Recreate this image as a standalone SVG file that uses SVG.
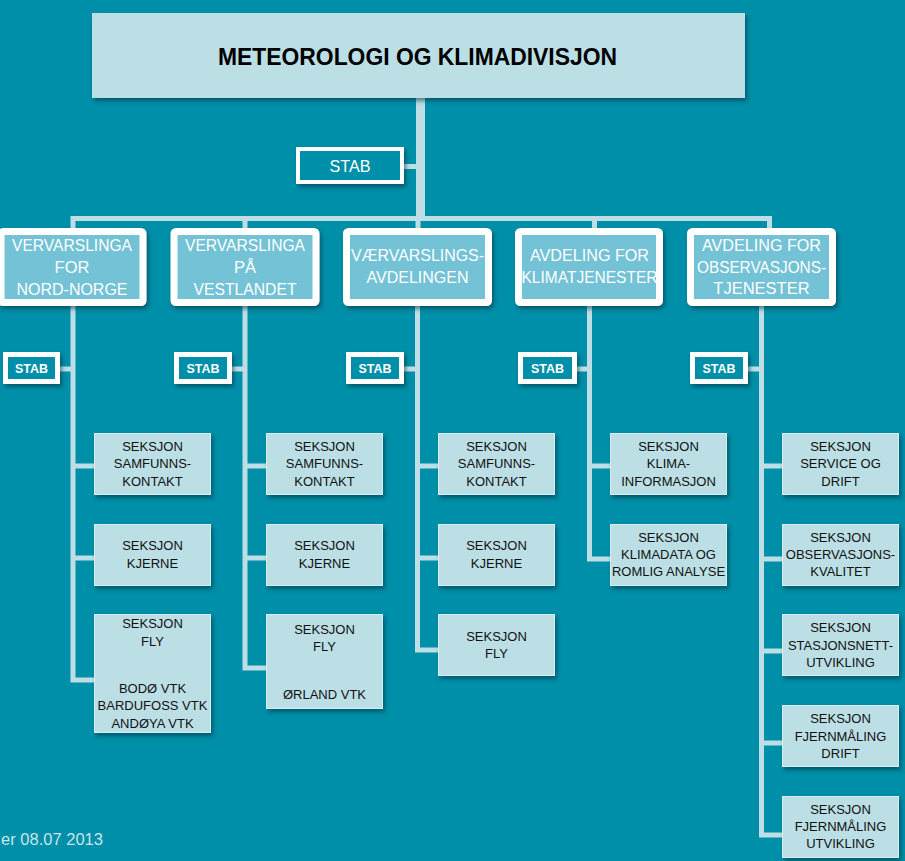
<svg xmlns="http://www.w3.org/2000/svg" width="905" height="861" viewBox="0 0 905 861">
<defs>
<filter id="sh" x="-10%" y="-10%" width="130%" height="140%">
<feDropShadow dx="2" dy="3" stdDeviation="2" flood-color="#00323c" flood-opacity="0.55"/>
</filter>
<style>
.bg{fill:#008FA8}
.conn{fill:none;stroke:#BDDEE4;stroke-width:5}
.top{fill:#BCDFE6;filter:url(#sh)}
.dept{fill:#73C2D6;stroke:#FFFFFF;stroke-width:7;filter:url(#sh)}
.stab{fill:#008FA8;stroke:#FFFFFF;stroke-width:5;filter:url(#sh)}
.stab0{fill:#008FA8;stroke:#FFFFFF;stroke-width:4;filter:url(#sh)}
.sec{fill:#BCDFE6;stroke:#D6EEF2;stroke-width:1;filter:url(#sh)}
.t-title{font-family:"Liberation Sans",Arial,sans-serif;font-weight:bold;font-size:24px;fill:#000;text-anchor:middle}
.t-dept{font-family:"Liberation Sans",Arial,sans-serif;font-size:16.5px;fill:#FFFFFF;text-anchor:middle}
.t-stab{font-family:"Liberation Sans",Arial,sans-serif;font-weight:bold;font-size:13px;fill:#FFFFFF;text-anchor:middle}
.t-stab0{font-family:"Liberation Sans",Arial,sans-serif;font-size:17px;fill:#FFFFFF;text-anchor:middle}
.t-sec{font-family:"Liberation Sans",Arial,sans-serif;font-size:13px;fill:#111111;text-anchor:middle}
.t-foot{font-family:"Liberation Sans",Arial,sans-serif;font-size:16px;fill:#C9E5EB}
</style>
</defs>
<rect class="bg" x="0" y="0" width="905" height="861"/>

<g id="connectors">
<path class="conn" d="M420.5 98 V218.5" style="stroke-width:9"/>
<path class="conn" d="M404 166.5 H420"/>
<path class="conn" d="M73 231 V218.5 H769.5 V231"/>
<path class="conn" d="M245 218.5 V231"/>
<path class="conn" d="M418 218.5 V231"/>
<path class="conn" d="M594.5 218.5 V231"/>
<path class="conn" d="M73 306 V680 H94"/>
<path class="conn" d="M60 369 H73"/>
<path class="conn" d="M73 466 H94"/>
<path class="conn" d="M73 558 H94"/>
<path class="conn" d="M245 306 V668 H266"/>
<path class="conn" d="M232 369 H245"/>
<path class="conn" d="M245 466 H266"/>
<path class="conn" d="M245 558 H266"/>
<path class="conn" d="M417.5 306 V650 H438"/>
<path class="conn" d="M404 369 H417.5"/>
<path class="conn" d="M417.5 466 H438"/>
<path class="conn" d="M417.5 558 H438"/>
<path class="conn" d="M589.5 306 V559 H610"/>
<path class="conn" d="M577 369 H589.5"/>
<path class="conn" d="M589.5 466 H610"/>
<path class="conn" d="M761.5 306 V835 H782"/>
<path class="conn" d="M748 369 H761.5"/>
<path class="conn" d="M761.5 466 H782"/>
<path class="conn" d="M761.5 559 H782"/>
<path class="conn" d="M761.5 651 H782"/>
<path class="conn" d="M761.5 743 H782"/>
</g>

<g id="top">
<rect class="top" x="92" y="13" width="653" height="85"/>
<text class="t-title" x="417.5" y="65" textLength="399" lengthAdjust="spacingAndGlyphs">METEOROLOGI OG KLIMADIVISJON</text>
</g>

<g id="stab-main">
<rect class="stab0" x="298" y="149" width="104" height="33"/>
<text class="t-stab0" x="350" y="172" textLength="41" lengthAdjust="spacingAndGlyphs">STAB</text>
</g>

<g id="dept1">
<rect class="dept" x="1" y="231.5" width="142" height="71" rx="2"/>
<text class="t-dept" x="72" y="251" textLength="120" lengthAdjust="spacingAndGlyphs">VERVARSLINGA</text>
<text class="t-dept" x="72" y="273">FOR</text>
<text class="t-dept" x="72" y="294.5" textLength="111" lengthAdjust="spacingAndGlyphs">NORD-NORGE</text>
</g>
<g id="dept2">
<rect class="dept" x="174" y="231.5" width="142" height="71" rx="2"/>
<text class="t-dept" x="245" y="251" textLength="120" lengthAdjust="spacingAndGlyphs">VERVARSLINGA</text>
<text class="t-dept" x="245" y="273">PÅ</text>
<text class="t-dept" x="245" y="294.5" textLength="103" lengthAdjust="spacingAndGlyphs">VESTLANDET</text>
</g>
<g id="dept3">
<rect class="dept" x="346.5" y="231.5" width="142" height="71" rx="2"/>
<text class="t-dept" x="417.5" y="261" textLength="133" lengthAdjust="spacingAndGlyphs">VÆRVARSLINGS-</text>
<text class="t-dept" x="417.5" y="283" textLength="102" lengthAdjust="spacingAndGlyphs">AVDELINGEN</text>
</g>
<g id="dept4">
<rect class="dept" x="518.5" y="231.5" width="141" height="71" rx="2"/>
<text class="t-dept" x="589.5" y="261" textLength="119" lengthAdjust="spacingAndGlyphs">AVDELING FOR</text>
<text class="t-dept" x="589.5" y="283" textLength="136" lengthAdjust="spacingAndGlyphs">KLIMATJENESTER</text>
</g>
<g id="dept5">
<rect class="dept" x="690.5" y="231.5" width="142" height="71" rx="2"/>
<text class="t-dept" x="761.5" y="251" textLength="119" lengthAdjust="spacingAndGlyphs">AVDELING FOR</text>
<text class="t-dept" x="761.5" y="272.5" textLength="129" lengthAdjust="spacingAndGlyphs">OBSERVASJONS-</text>
<text class="t-dept" x="761.5" y="294">TJENESTER</text>
</g>

<g id="stab1"><rect class="stab" x="5.5" y="354.5" width="52" height="27"/><text class="t-stab" x="31.5" y="373" textLength="33" lengthAdjust="spacingAndGlyphs">STAB</text></g>
<g id="stab2"><rect class="stab" x="176.5" y="354.5" width="53" height="27"/><text class="t-stab" x="203" y="373" textLength="33" lengthAdjust="spacingAndGlyphs">STAB</text></g>
<g id="stab3"><rect class="stab" x="348.5" y="354.5" width="53" height="27"/><text class="t-stab" x="375" y="373" textLength="33" lengthAdjust="spacingAndGlyphs">STAB</text></g>
<g id="stab4"><rect class="stab" x="520.5" y="354.5" width="54" height="27"/><text class="t-stab" x="547.5" y="373" textLength="33" lengthAdjust="spacingAndGlyphs">STAB</text></g>
<g id="stab5"><rect class="stab" x="692.5" y="354.5" width="53" height="27"/><text class="t-stab" x="719" y="373" textLength="33" lengthAdjust="spacingAndGlyphs">STAB</text></g>

<g id="sec1a"><rect class="sec" x="94.5" y="433.5" width="116" height="61"/>
<text class="t-sec" x="152.5" y="450.7">SEKSJON</text><text class="t-sec" x="152.5" y="468.2">SAMFUNNS-</text><text class="t-sec" x="152.5" y="485.7">KONTAKT</text></g>
<g id="sec1b"><rect class="sec" x="94.5" y="524.5" width="116" height="61"/>
<text class="t-sec" x="152.5" y="549.7">SEKSJON</text><text class="t-sec" x="152.5" y="567.7">KJERNE</text></g>
<g id="sec1c"><rect class="sec" x="94.5" y="614.5" width="116" height="118"/>
<text class="t-sec" x="152.5" y="627.7">SEKSJON</text><text class="t-sec" x="152.5" y="645.7">FLY</text>
<text class="t-sec" x="152.5" y="692.7">BODØ VTK</text><text class="t-sec" x="152.5" y="710.2">BARDUFOSS VTK</text><text class="t-sec" x="152.5" y="727.7">ANDØYA VTK</text></g>

<g id="sec2a"><rect class="sec" x="266.5" y="433.5" width="116" height="61"/>
<text class="t-sec" x="324.5" y="450.7">SEKSJON</text><text class="t-sec" x="324.5" y="468.2">SAMFUNNS-</text><text class="t-sec" x="324.5" y="485.7">KONTAKT</text></g>
<g id="sec2b"><rect class="sec" x="266.5" y="524.5" width="116" height="61"/>
<text class="t-sec" x="324.5" y="549.7">SEKSJON</text><text class="t-sec" x="324.5" y="567.7">KJERNE</text></g>
<g id="sec2c"><rect class="sec" x="266.5" y="614.5" width="116" height="94"/>
<text class="t-sec" x="324.5" y="633.7">SEKSJON</text><text class="t-sec" x="324.5" y="650.7">FLY</text>
<text class="t-sec" x="324.5" y="698.7">ØRLAND VTK</text></g>

<g id="sec3a"><rect class="sec" x="438.5" y="433.5" width="116" height="61"/>
<text class="t-sec" x="496.5" y="450.7">SEKSJON</text><text class="t-sec" x="496.5" y="468.2">SAMFUNNS-</text><text class="t-sec" x="496.5" y="485.7">KONTAKT</text></g>
<g id="sec3b"><rect class="sec" x="438.5" y="524.5" width="116" height="61"/>
<text class="t-sec" x="496.5" y="549.7">SEKSJON</text><text class="t-sec" x="496.5" y="567.7">KJERNE</text></g>
<g id="sec3c"><rect class="sec" x="438.5" y="614.5" width="116" height="61"/>
<text class="t-sec" x="496.5" y="640.7">SEKSJON</text><text class="t-sec" x="496.5" y="657.7">FLY</text></g>

<g id="sec4a"><rect class="sec" x="610.5" y="433.5" width="116" height="61"/>
<text class="t-sec" x="668.5" y="450.7">SEKSJON</text><text class="t-sec" x="668.5" y="468.2">KLIMA-</text><text class="t-sec" x="668.5" y="485.7">INFORMASJON</text></g>
<g id="sec4b"><rect class="sec" x="610.5" y="524.5" width="116" height="61"/>
<text class="t-sec" x="668.5" y="541.7">SEKSJON</text><text class="t-sec" x="668.5" y="558.7">KLIMADATA OG</text><text class="t-sec" x="668.5" y="575.7">ROMLIG ANALYSE</text></g>

<g id="sec5a"><rect class="sec" x="782.5" y="433.5" width="116" height="61"/>
<text class="t-sec" x="840.5" y="450.7">SEKSJON</text><text class="t-sec" x="840.5" y="468.2">SERVICE OG</text><text class="t-sec" x="840.5" y="485.7">DRIFT</text></g>
<g id="sec5b"><rect class="sec" x="782.5" y="524.5" width="116" height="61"/>
<text class="t-sec" x="840.5" y="541.7">SEKSJON</text><text class="t-sec" x="840.5" y="558.7">OBSERVASJONS-</text><text class="t-sec" x="840.5" y="575.7">KVALITET</text></g>
<g id="sec5c"><rect class="sec" x="782.5" y="614.5" width="116" height="61"/>
<text class="t-sec" x="840.5" y="631.7">SEKSJON</text><text class="t-sec" x="840.5" y="649.7">STASJONSNETT-</text><text class="t-sec" x="840.5" y="666.7">UTVIKLING</text></g>
<g id="sec5d"><rect class="sec" x="782.5" y="705.5" width="116" height="61"/>
<text class="t-sec" x="840.5" y="722.7">SEKSJON</text><text class="t-sec" x="840.5" y="740.7">FJERNMÅLING</text><text class="t-sec" x="840.5" y="757.7">DRIFT</text></g>
<g id="sec5e"><rect class="sec" x="782.5" y="796.5" width="116" height="61"/>
<text class="t-sec" x="840.5" y="813.7">SEKSJON</text><text class="t-sec" x="840.5" y="830.7">FJERNMÅLING</text><text class="t-sec" x="840.5" y="847.7">UTVIKLING</text></g>

<text class="t-foot" x="1" y="845" textLength="102" lengthAdjust="spacingAndGlyphs">er 08.07 2013</text>
</svg>
